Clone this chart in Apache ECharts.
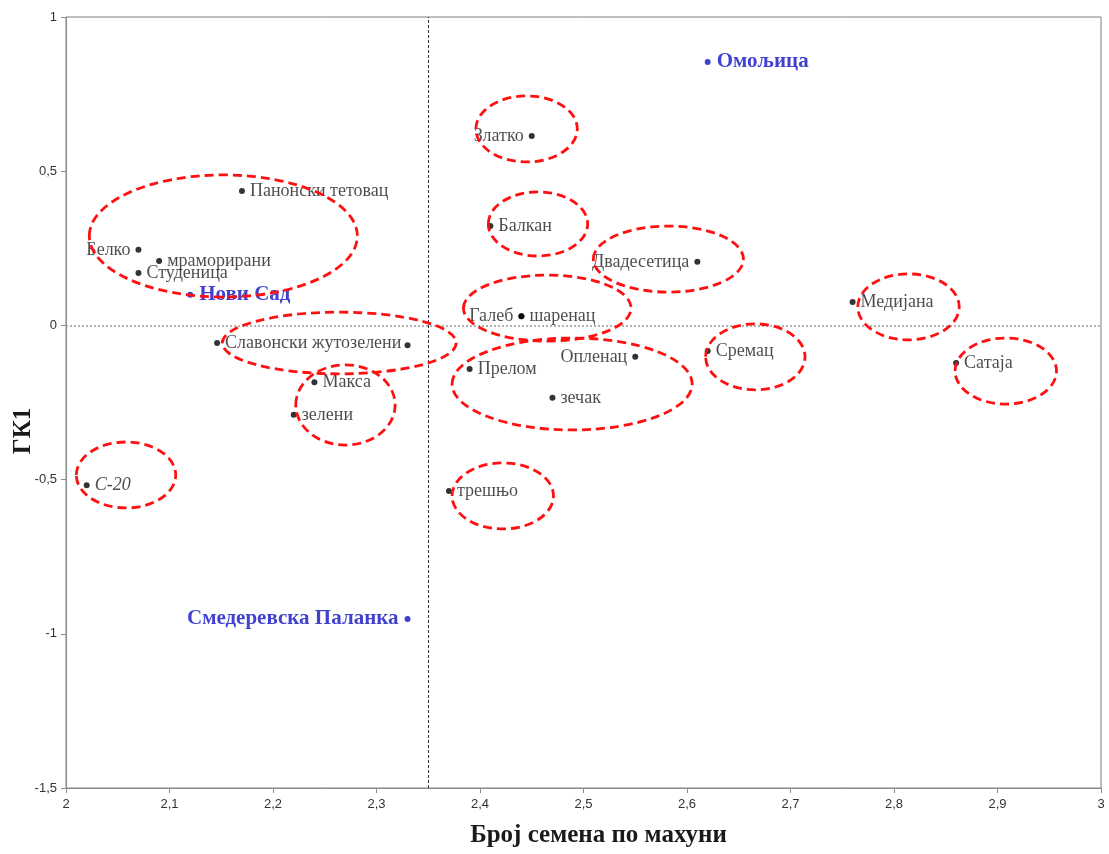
<!DOCTYPE html>
<html>
<head>
<meta charset="utf-8">
<script src="https://cdn.jsdelivr.net/npm/echarts@6/dist/echarts.min.js"></script>
<style>
  html, body { margin: 0; padding: 0; background: #fff; }
  #chart { width: 1109px; height: 854px; }
</style>
</head>
<body>
<div id="chart"></div>
<script>
// Cultivars: seeds per pod (x) vs. first principal component ГК1 (y)
const cultivarNames = ['Златко', 'Панонски тетовац', 'Белко', 'мраморирани', 'Студеница',
  'Балкан', 'Двадесетица', 'Медијана', 'Галеб', 'шаренац', 'Славонски жутозелени', '',
  'Опленац', 'Сремац', 'Сатаја', 'Прелом', 'Макса', 'зелени', 'зечак', 'С-20', 'трешњо'];
const cultivarSeeds = [2.45, 2.17, 2.07, 2.09, 2.07,
  2.41, 2.61, 2.76, 2.44, 2.44, 2.146, 2.33,
  2.55, 2.62, 2.86, 2.39, 2.24, 2.22, 2.47, 2.02, 2.37];
const cultivarGK1 = [0.614, 0.436, 0.245, 0.209, 0.170,
  0.322, 0.206, 0.076, 0.030, 0.030, -0.057, -0.064,
  -0.102, -0.083, -0.122, -0.141, -0.184, -0.290, -0.235, -0.518, -0.537];

// Growing locations
const siteNames = ['Омољица', 'Нови Сад', 'Смедеревска Паланка'];
const siteSeeds = [2.62, 2.12, 2.33];
const siteGK1 = [0.854, 0.099, -0.952];

// Grouping rings: centre x, centre y, half-width, half-height (axis units)
const ringCx = [2.152, 2.264, 2.270, 2.445, 2.456, 2.582, 2.465, 2.489, 2.666, 2.814, 2.908, 2.058, 2.422];
const ringCy = [0.290, -0.057, -0.258, 0.637, 0.329, 0.215, 0.056, -0.190, -0.102, 0.060, -0.148, -0.485, -0.553];
const ringRx = [0.1295, 0.113, 0.048, 0.049, 0.048, 0.0725, 0.081, 0.116, 0.048, 0.049, 0.049, 0.048, 0.049];
const ringRy = [0.198, 0.100, 0.130, 0.107, 0.104, 0.107, 0.107, 0.149, 0.107, 0.107, 0.107, 0.107, 0.107];

// Axis settings
const xMin = 2, xMax = 3, xStep = 0.1;
const yMin = -1.5, yMax = 1, yStep = 0.5;
const seedMean = 2.355;

// labels drawn on the left of their point
const leftLabelled = new Set(['Златко', 'Белко', 'Двадесетица', 'Галеб', 'Опленац', 'Смедеревска Паланка']);

const fmt = v => String(Math.round(v * 10) / 10).replace('.', ',');

const cultivarData = cultivarNames.map((n, i) => {
  const item = { name: n, value: [cultivarSeeds[i], cultivarGK1[i]] };
  item.label = { position: leftLabelled.has(n) ? 'left' : 'right' };
  if (n === 'С-20') item.label.fontStyle = 'italic';
  return item;
});
const siteData = siteNames.map((n, i) => ({
  name: n, value: [siteSeeds[i], siteGK1[i]],
  label: { position: leftLabelled.has(n) ? 'left' : 'right' }
}));
const ringData = ringCx.map((c, i) => [c, ringCy[i], ringRx[i], ringRy[i]]);

const serif = '"Liberation Serif", "Times New Roman", serif';
const narrow = '"Liberation Sans Narrow", "Arial Narrow", "Liberation Sans", sans-serif';
const siteBlue = '#1212c4';

const chart = echarts.init(document.getElementById('chart'), null, { renderer: 'canvas' });
chart.setOption({
  animation: false,
  backgroundColor: '#fff',
  grid: { left: 66, right: 8, top: 17, bottom: 66, show: true, borderColor: '#7f7f7f', borderWidth: 1 },
  graphic: [{
    type: 'text', x: 24, y: 431, rotation: Math.PI / 2, silent: true,
    style: { text: 'ГК1', font: 'bold 25px ' + serif, fill: '#1a1a1a', align: 'center', verticalAlign: 'middle' }
  }],
  xAxis: {
    type: 'value', min: xMin, max: xMax, interval: xStep,
    name: 'Број семена по махуни', nameLocation: 'middle', nameGap: 35,
    nameTextStyle: { fontFamily: serif, fontWeight: 'bold', fontSize: 25, color: '#1a1a1a', padding: [0, 0, 0, 30] },
    axisLine: { show: true, onZero: false, lineStyle: { color: '#8c8c8c' } },
    axisTick: { show: true, length: 5, lineStyle: { color: '#8c8c8c' } },
    axisLabel: { fontFamily: narrow, fontSize: 13, color: '#333', margin: 10, formatter: fmt },
    splitLine: { show: false }
  },
  yAxis: {
    type: 'value', min: yMin, max: yMax, interval: yStep,
    axisLine: { show: true, onZero: false, lineStyle: { color: '#8c8c8c' } },
    axisTick: { show: true, length: 5, lineStyle: { color: '#8c8c8c' } },
    axisLabel: { fontFamily: narrow, fontSize: 13, color: '#333', margin: 9, formatter: fmt },
    splitLine: { show: false }
  },
  series: [
    {
      type: 'scatter', name: 'cultivars', data: cultivarData, z: 4,
      symbolSize: 6, itemStyle: { color: '#000' },
      label: { show: true, formatter: '{b}', distance: 5, fontFamily: serif, fontSize: 18, color: '#1e1e1e' },
      markLine: {
        silent: true, symbol: 'none', label: { show: false },
        data: [
          { xAxis: seedMean, lineStyle: { color: '#333', type: [3, 2], width: 1 } },
          { yAxis: 0, lineStyle: { color: '#999', type: [2, 2], width: 1.5 } }
        ]
      }
    },
    {
      type: 'scatter', name: 'sites', data: siteData, z: 4,
      symbolSize: 6, itemStyle: { color: siteBlue },
      label: { show: true, formatter: '{b}', distance: 6, fontFamily: serif, fontSize: 21, fontWeight: 'bold', color: siteBlue }
    },
    {
      type: 'custom', name: 'rings', data: ringData, z: 5,
      encode: { x: 0, y: 1 },
      renderItem: (params, api) => {
        const c = api.coord([api.value(0), api.value(1)]);
        const s = api.size([api.value(2), api.value(3)]);
        return {
          type: 'ellipse',
          shape: { cx: c[0], cy: c[1], rx: s[0], ry: s[1] },
          style: { fill: null, stroke: '#ff1010', lineWidth: 2.8, lineDash: [9, 5] }
        };
      }
    }
  ]
});
</script>
</body>
</html>
